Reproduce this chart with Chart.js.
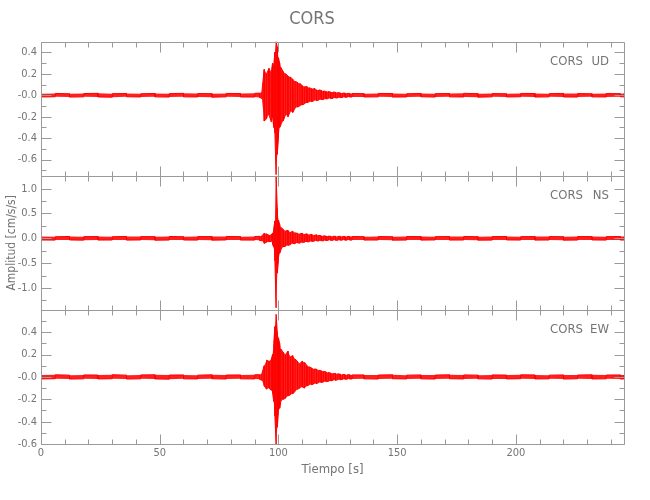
<!DOCTYPE html>
<html>
<head>
<meta charset="utf-8">
<title>CORS</title>
<script src="https://cdn.jsdelivr.net/npm/chart.js@4.4.1/dist/chart.umd.min.js"></script>
<style>
  html, body { margin: 0; padding: 0; background: #fff; }
</style>
</head>
<body>
<canvas id="cors" width="650" height="500"></canvas>
<script>
// tiempo de cada muestra (s); muestreo fino solo durante el evento
const tiempo = [0, 6, 12, 18, 24, 30, 36, 42, 48, 54, 60, 66, 72, 78, 84, 90,
  92, 93, 94, 95, 96, 97, 97.5, 98, 98.5, 99, 99.5, 100, 100.5, 101,
  102, 103, 104, 105, 106, 107, 108, 109, 110, 111, 112, 113, 114, 115, 116,
  117, 118, 119, 120, 121, 122, 123, 124, 125, 126, 127, 128, 129, 130, 131,
  136, 142, 148, 154, 160, 166, 172, 178, 184, 190, 196, 202, 208, 214, 220,
  226, 232, 238, 244, 245.5];

const udAlto = [0.015, 0.017, 0.014, 0.016, 0.018, 0.015, 0.016, 0.014, 0.017, 0.015, 0.018, 0.016, 0.015, 0.017, 0.016, 0.018,
  0.02, 0.03, 0.24, 0.20, 0.25, 0.22, 0.30, 0.28, 0.40, 0.50, 0.45, 0.35, 0.30, 0.26,
  0.22, 0.20, 0.18, 0.17, 0.15, 0.13, 0.12, 0.11, 0.09, 0.08, 0.08, 0.07, 0.06, 0.065, 0.05,
  0.05, 0.045, 0.04, 0.035, 0.035, 0.03, 0.03, 0.028, 0.025, 0.022, 0.02, 0.02, 0.018, 0.017, 0.016,
  0.015, 0.017, 0.016, 0.014, 0.017, 0.015, 0.016, 0.018, 0.015, 0.016, 0.014, 0.017, 0.016, 0.015, 0.017,
  0.016, 0.014, 0.016, 0.015, 0.016];
const udBajo = [-0.016, -0.014, -0.017, -0.015, -0.016, -0.018, -0.014, -0.016, -0.015, -0.017, -0.015, -0.016, -0.018, -0.015, -0.016, -0.017,
  -0.02, -0.03, -0.24, -0.22, -0.18, -0.25, -0.20, -0.30, -0.35, -0.74, -0.55, -0.40, -0.30, -0.28,
  -0.24, -0.18, -0.20, -0.15, -0.16, -0.12, -0.11, -0.10, -0.09, -0.08, -0.07, -0.06, -0.06, -0.05, -0.05,
  -0.045, -0.04, -0.04, -0.035, -0.03, -0.03, -0.028, -0.025, -0.025, -0.022, -0.02, -0.018, -0.018, -0.017, -0.016,
  -0.016, -0.015, -0.017, -0.016, -0.014, -0.017, -0.015, -0.016, -0.018, -0.015, -0.016, -0.014, -0.017, -0.015, -0.016,
  -0.017, -0.015, -0.016, -0.014, -0.015];

const nsAlto = [0.035, 0.032, 0.037, 0.034, 0.036, 0.033, 0.038, 0.035, 0.034, 0.037, 0.033, 0.036, 0.035, 0.038, 0.034, 0.036,
  0.04, 0.05, 0.10, 0.09, 0.06, 0.08, 0.10, 0.20, 0.35, 1.24, 0.60, 0.37, 0.28, 0.22,
  0.18, 0.15, 0.16, 0.12, 0.14, 0.11, 0.10, 0.09, 0.10, 0.08, 0.09, 0.07, 0.08, 0.06, 0.07,
  0.06, 0.05, 0.05, 0.045, 0.045, 0.04, 0.042, 0.04, 0.038, 0.04, 0.037, 0.036, 0.037, 0.035, 0.036,
  0.034, 0.036, 0.033, 0.037, 0.035, 0.034, 0.036, 0.038, 0.033, 0.035, 0.037, 0.034, 0.036, 0.035, 0.033,
  0.037, 0.035, 0.034, 0.036, 0.035];
const nsBajo = [-0.034, -0.036, -0.033, -0.037, -0.035, -0.034, -0.036, -0.033, -0.038, -0.035, -0.034, -0.036, -0.037, -0.033, -0.035, -0.036,
  -0.04, -0.05, -0.10, -0.08, -0.07, -0.06, -0.12, -0.18, -0.45, -1.40, -0.70, -0.45, -0.30, -0.24,
  -0.17, -0.16, -0.14, -0.13, -0.10, -0.11, -0.09, -0.10, -0.08, -0.08, -0.07, -0.07, -0.06, -0.06, -0.05,
  -0.055, -0.05, -0.05, -0.045, -0.04, -0.04, -0.04, -0.038, -0.04, -0.037, -0.036, -0.037, -0.035, -0.036, -0.035,
  -0.035, -0.034, -0.037, -0.035, -0.036, -0.033, -0.035, -0.034, -0.037, -0.036, -0.033, -0.035, -0.036, -0.034, -0.037,
  -0.035, -0.033, -0.036, -0.035, -0.034];

const ewAlto = [0.017, 0.019, 0.016, 0.018, 0.017, 0.020, 0.016, 0.018, 0.019, 0.017, 0.018, 0.016, 0.019, 0.017, 0.018, 0.019,
  0.02, 0.03, 0.10, 0.15, 0.14, 0.16, 0.20, 0.30, 0.45, 0.56, 0.40, 0.35, 0.30, 0.25,
  0.22, 0.20, 0.23, 0.18, 0.19, 0.16, 0.14, 0.12, 0.14, 0.13, 0.10, 0.09, 0.08, 0.07, 0.07,
  0.06, 0.055, 0.05, 0.045, 0.04, 0.035, 0.03, 0.03, 0.028, 0.025, 0.022, 0.02, 0.02, 0.019, 0.018,
  0.018, 0.017, 0.019, 0.016, 0.018, 0.017, 0.019, 0.018, 0.016, 0.018, 0.017, 0.019, 0.018, 0.016, 0.018,
  0.017, 0.019, 0.017, 0.018, 0.017];
const ewBajo = [-0.018, -0.016, -0.019, -0.017, -0.018, -0.016, -0.019, -0.017, -0.018, -0.020, -0.017, -0.018, -0.016, -0.019, -0.017, -0.018,
  -0.02, -0.03, -0.08, -0.11, -0.10, -0.12, -0.14, -0.22, -0.35, -0.60, -0.45, -0.31, -0.28, -0.22,
  -0.20, -0.19, -0.17, -0.16, -0.15, -0.13, -0.11, -0.10, -0.09, -0.10, -0.08, -0.07, -0.07, -0.06, -0.06,
  -0.05, -0.05, -0.045, -0.04, -0.04, -0.035, -0.03, -0.03, -0.025, -0.025, -0.022, -0.02, -0.02, -0.019, -0.018,
  -0.017, -0.019, -0.016, -0.018, -0.017, -0.019, -0.016, -0.018, -0.017, -0.019, -0.018, -0.016, -0.018, -0.017, -0.019,
  -0.016, -0.018, -0.017, -0.019, -0.018];

// ticks
const xMayores = [0, 50, 100, 150, 200];
const xEtiquetas = ['0', '50', '100', '150', '200'];
const xMenores = [10, 20, 30, 40, 60, 70, 80, 90, 110, 120, 130, 140, 160, 170, 180, 190, 210, 220, 230, 240];

const udTicks = [0.4, 0.2, 0, -0.2, -0.4, -0.6];
const udEtiquetas = ['0.4', '0.2', '-0.0', '-0.2', '-0.4', '-0.6'];
const udMenores = [0.3, 0.1, -0.1, -0.3, -0.5, -0.7];
const nsTicks = [1.0, 0.5, 0, -0.5, -1.0];
const nsEtiquetas = ['1.0', '0.5', '0.0', '-0.5', '-1.0'];
const nsMenores = [1.25, 0.75, 0.25, -0.25, -0.75, -1.25];
const ewTicks = [0.4, 0.2, 0, -0.2, -0.4, -0.6];
const ewEtiquetas = ['0.4', '0.2', '-0.0', '-0.2', '-0.4', '-0.6'];
const ewMenores = [0.5, 0.3, 0.1, -0.1, -0.3, -0.5];

const FUENTE = "'DejaVu Sans Condensed', 'Liberation Sans Narrow', sans-serif";
const GRIS = '#9a9a9a';
const TEXTO = '#747474';

const paneles = [
  {id: 'ud', nombre: 'UD', min: -0.75, max: 0.50, hi: udAlto, lo: udBajo, mayores: udTicks, etiquetas: udEtiquetas, menores: udMenores, titulo: ''},
  {id: 'ns', nombre: 'NS', min: -1.44, max: 1.26, hi: nsAlto, lo: nsBajo, mayores: nsTicks, etiquetas: nsEtiquetas, menores: nsMenores, titulo: 'Amplitud [cm/s/s]'},
  {id: 'ew', nombre: 'EW', min: -0.60, max: 0.60, hi: ewAlto, lo: ewBajo, mayores: ewTicks, etiquetas: ewEtiquetas, menores: ewMenores, titulo: ''}
];

// traza max/min: trazo vertical en cada muestra, alternando el sentido
function traza(hi, lo) {
  let pts = [];
  tiempo.forEach((t, i) => {
    if (i % 2 === 0) {
      pts.push({x: t, y: hi[i]});
      pts.push({x: t, y: lo[i]});
    } else {
      pts.push({x: t, y: lo[i]});
      pts.push({x: t, y: hi[i]});
    }
  });
  return pts;
}
function borde(vals) {
  return tiempo.map((t, i) => ({x: t, y: vals[i]}));
}

let datasets = [];
paneles.forEach(p => {
  datasets.push({data: traza(p.hi, p.lo), yAxisID: p.id, borderColor: '#ff0000', borderWidth: 1,
    pointRadius: 0, fill: false, tension: 0, order: 0});
});
paneles.forEach(p => {
  datasets.push({data: borde(p.hi), yAxisID: p.id, borderColor: 'transparent', borderWidth: 0,
    pointRadius: 0, fill: false, order: 1});
  datasets.push({data: borde(p.lo), yAxisID: p.id, borderColor: 'transparent', borderWidth: 0,
    pointRadius: 0, fill: '-1', backgroundColor: 'rgba(255,0,0,0.88)', order: 1});
});

let scales = {
  x: {
    type: 'linear', min: 0, max: 245.5,
    grid: {display: false, drawTicks: false},
    border: {display: false},
    afterBuildTicks: s => { s.ticks = xMayores.map(v => ({value: v})); },
    afterFit: s => { s.height = 56; },
    ticks: {autoSkip: false, maxRotation: 0, padding: 3, color: TEXTO,
      font: {family: FUENTE, size: 11}, callback: (v, i) => xEtiquetas[i]},
    title: {display: true, text: 'Tiempo [s]', color: TEXTO,
      font: {family: FUENTE, size: 13}, padding: {top: 0, bottom: 23}}
  }
};
// los ejes apilados se colocan de abajo hacia arriba: se definen en orden inverso
paneles.slice().reverse().forEach(p => {
  scales[p.id] = {
    type: 'linear', position: 'left', stack: 'paneles', stackWeight: 1,
    min: p.min, max: p.max,
    grid: {display: false, drawTicks: false},
    border: {display: false},
    afterBuildTicks: s => { s.ticks = p.mayores.map(v => ({value: v})); },
    afterFit: s => { s.width = 41; },
    ticks: {autoSkip: false, padding: 4, color: TEXTO,
      font: {family: FUENTE, size: 11}, callback: (v, i) => p.etiquetas[i]},
    title: {display: p.titulo !== '', text: p.titulo, color: TEXTO,
      font: {family: FUENTE, size: 12}, padding: {top: 5, bottom: 0}}
  };
});

// marco, ticks internos y rotulos de cada panel
const marco = {
  id: 'marco',
  afterDatasetsDraw(chart) {
    const ctx = chart.ctx;
    const area = chart.chartArea;
    const ex = chart.scales.x;
    const px = v => Math.round(v) + 0.5;
    const L = px(area.left), R = px(area.right);
    ctx.save();
    ctx.strokeStyle = GRIS;
    ctx.lineWidth = 1;
    paneles.forEach(p => {
      const s = chart.scales[p.id];
      const T = px(s.top), B = px(s.bottom);
      ctx.beginPath();
      ctx.rect(L, T, R - L, B - T);
      const raya = (x1, y1, x2, y2) => { ctx.moveTo(x1, y1); ctx.lineTo(x2, y2); };
      p.mayores.forEach(v => {
        const y = px(s.getPixelForValue(v));
        raya(L, y, L + 10, y); raya(R, y, R - 10, y);
      });
      p.menores.forEach(v => {
        const y = px(s.getPixelForValue(v));
        raya(L, y, L + 5, y); raya(R, y, R - 5, y);
      });
      xMayores.forEach(v => {
        const x = px(ex.getPixelForValue(v));
        raya(x, T, x, T + 10); raya(x, B, x, B - 10);
      });
      xMenores.forEach(v => {
        const x = px(ex.getPixelForValue(v));
        raya(x, T, x, T + 5); raya(x, B, x, B - 5);
      });
      ctx.stroke();

      ctx.fillStyle = TEXTO;
      ctx.font = '13px ' + FUENTE;
      ctx.textAlign = 'right';
      ctx.textBaseline = 'middle';
      ctx.fillText('CORS', area.right - 41, s.top + 20);
      ctx.fillText(p.nombre, area.right - 15, s.top + 20);
    });
    ctx.restore();
  }
};

new Chart(document.getElementById('cors'), {
  type: 'line',
  data: {datasets: datasets},
  options: {
    responsive: false,
    animation: false,
    events: [],
    devicePixelRatio: 1,
    layout: {padding: {top: 0, right: 26, bottom: 0, left: 0}},
    scales: scales,
    plugins: {
      legend: {display: false},
      tooltip: {enabled: false},
      title: {display: true, text: 'CORS', color: TEXTO,
        font: {family: FUENTE, size: 18, weight: 'normal'}, padding: {top: 9, bottom: 11}}
    }
  },
  plugins: [marco]
});
</script>
</body>
</html>
